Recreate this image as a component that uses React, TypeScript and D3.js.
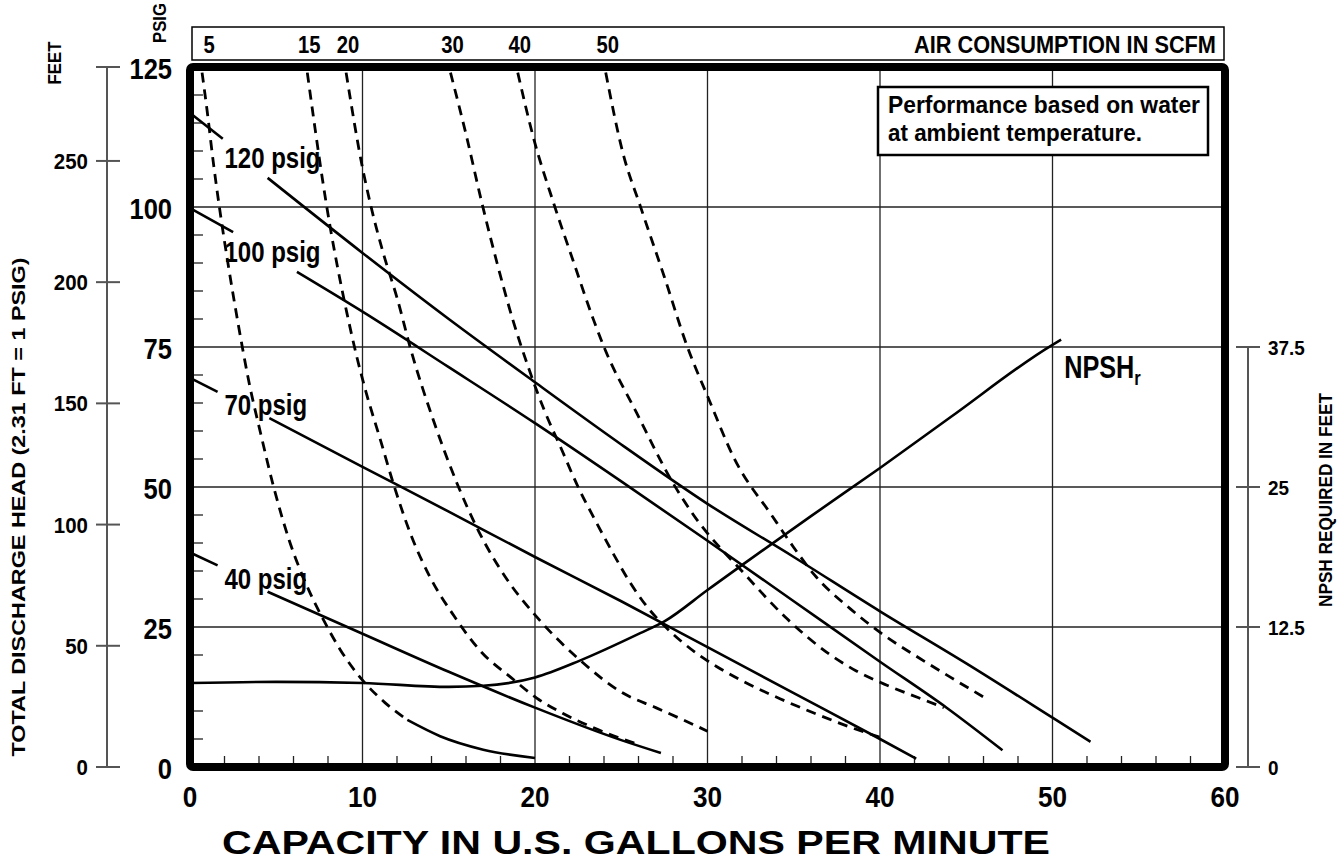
import React from 'react';
import * as d3 from 'd3';

// Achsen
const capacityTicks = [0, 10, 20, 30, 40, 50, 60];
const psigTicks = [0, 25, 50, 75, 100, 125];
const feetTicks = [0, 50, 100, 150, 200, 250];
const npshTicks = [0, 12.5, 25, 37.5];

// Förderhöhe-Kurven [GPM, PSIG], jeweils kurzer Anfang vor dem Label + Hauptteil
const head120Lead = [[0, 116.8], [1.9, 112.2]];
const head120 = [[4.5, 105.2], [10, 91.8], [15, 80], [20, 68.7], [25, 57.6], [30, 47], [35, 37.5], [40, 27.8], [45, 18.5], [50, 8.8], [52.2, 4.5]];
const head100Lead = [[0, 99.8], [2.5, 95.5]];
const head100 = [[6.2, 88.4], [10, 81.3], [15, 71.4], [20, 61.4], [25, 51], [30, 40.4], [35, 29.6], [40, 18.8], [43.9, 10.5], [47.1, 3.0]];
const head70Lead = [[0, 69.5], [1.6, 67]];
const head70 = [[4.6, 62.3], [10, 53.6], [15, 45.6], [20, 37.5], [25, 29.6], [30, 21.4], [35, 13.2], [40, 5.0], [42.1, 1.5]];
const head40Lead = [[0, 38.3], [1.6, 36]];
const head40 = [[4.5, 31.3], [10, 23.8], [15, 17], [20, 10.6], [25, 4.8], [27.3, 2.5]];
const headLabels = ['120 psig', '100 psig', '70 psig', '40 psig'];

// Luftverbrauch SCFM [GPM, PSIG]
const scfmLabels = ['5', '15', '20', '30', '40', '50'];
const scfm5 = [[0.7, 124], [1.0, 117], [1.35, 108], [1.75, 99], [2.25, 89], [2.8, 79], [3.4, 69], [4.1, 59.5], [4.85, 50], [5.75, 40.5], [6.9, 31.5], [7.7, 26.5], [8.7, 21], [10, 15.5], [11.3, 11.5], [12.6, 8.4]];
const scfm5Tail = [[12.6, 8.4], [14.5, 5.5], [17, 3.1], [20, 1.6]];
const scfm15 = [[6.8, 124], [7.25, 114], [7.7, 104.5], [8.15, 96], [8.6, 88.5], [9.1, 81], [9.65, 73.5], [10.2, 67], [11, 58.8], [11.8, 50.5], [12.8, 41.5], [13.9, 34], [15.3, 27], [16.9, 20.5], [18.6, 16], [20.1, 12.3], [21.6, 9.6], [23.4, 7], [26.1, 3.9]];
const scfm20 = [[9.05, 124], [10, 107], [10.5, 100], [11.2, 91.8], [12, 83.8], [12.85, 74], [14.1, 62], [15.5, 50.5], [16.75, 42], [18.4, 33.4], [20.1, 26.8], [22.6, 19.1], [25.1, 13.2], [27, 10.6], [28.6, 8.4], [30, 6.4]];
const scfm30 = [[15.1, 124], [16, 113], [16.9, 101], [17.8, 90], [18.7, 80], [19.6, 71.5], [20.5, 64], [21.5, 57], [22.5, 50], [23.5, 44], [24.5, 38.3], [25.5, 33], [26.5, 28.6], [27.5, 25.2], [28.5, 22.4], [29.5, 20], [30.5, 18], [32.2, 15.1], [34.2, 12.2], [36.2, 9.6], [38.2, 7.2], [40, 5.3]];
const scfm40 = [[19, 124], [19.9, 112.5], [21.1, 100.5], [22.2, 90.5], [23.4, 79.8], [24, 75], [25.9, 63.2], [28, 50.7], [29.1, 45.4], [32.2, 34.3], [34.6, 26.5], [37, 20.3], [38.6, 17.2], [40.4, 14.6], [42.2, 12.4], [43.7, 10.6]];
const scfm50 = [[24.1, 124], [25.1, 109.6], [26.1, 100.2], [27.5, 87.5], [28.8, 75.3], [30.1, 65.5], [31.5, 55.4], [33.8, 44.6], [35, 39.2], [36.2, 34.3], [38.3, 28.2], [40.2, 23.6], [42.2, 19.6], [44.1, 16], [46, 12.5]];

// NPSH erforderlich [GPM, Fuß]
const npsh = [[0, 7.5], [5, 7.6], [10, 7.5], [15, 7.15], [17, 7.25], [20, 8.0], [22.6, 9.5], [26.1, 11.95], [27.5, 13.0], [30, 15.8], [32.2, 18.25], [36, 22.4], [40, 26.7], [44.1, 31.25], [50, 37.7], [50.5, 38.15]];

const FONT = "'Liberation Sans', Arial, Helvetica, sans-serif";

// Text mit horizontaler Stauchung
const T = ({x, y, size, sx = 1, anchor = 'start', children}: any) => (
    <text transform={`translate(${x},${y}) scale(${sx},1)`} fontSize={size} textAnchor={anchor}>{children}</text>
);

const App: React.FC = () => {
    const x = d3.scaleLinear().domain([0, 60]).range([190, 1225]);
    const y = d3.scaleLinear().domain([0, 125]).range([767, 67]);
    const yFeet = d3.scaleLinear().domain([0, 125 * 2.31]).range([767, 67]);
    const yNpsh = d3.scaleLinear().domain([0, 37.5]).range([767, 347]);

    const line = d3.line<number[]>().x(d => x(d[0])).y(d => y(d[1])).curve(d3.curveMonotoneX);
    const npshLine = d3.line<number[]>().x(d => x(d[0])).y(d => yNpsh(d[1])).curve(d3.curveMonotoneX);

    const heads = [
        {lead: head120Lead, main: head120},
        {lead: head100Lead, main: head100},
        {lead: head70Lead, main: head70},
        {lead: head40Lead, main: head40},
    ];
    const scfm = [scfm5, scfm15, scfm20, scfm30, scfm40, scfm50];

    const minorY = d3.range(5, 125, 5).filter(v => v % 25 !== 0);
    const minorX = d3.range(2, 60, 2).filter(v => v % 10 !== 0);
    const npshEnd = npsh[npsh.length - 1];

    return (
        <svg width={1344} height={860} style={{position: 'absolute', left: 0, top: 0, background: '#fff'}}
             fontFamily={FONT} fontWeight="bold">
            {/* Gitter */}
            {capacityTicks.slice(1, -1).map(t => (
                <line key={'gx' + t} x1={x(t)} x2={x(t)} y1={y(0)} y2={y(125)} stroke="#222" strokeWidth={1.3}/>
            ))}
            {psigTicks.slice(1, -1).map(t => (
                <line key={'gy' + t} x1={x(0)} x2={x(60)} y1={y(t)} y2={y(t)} stroke="#222" strokeWidth={1.3}/>
            ))}
            {minorY.map(t => (
                <line key={'my' + t} x1={x(0)} x2={x(0) + 13} y1={y(t)} y2={y(t)} stroke="#222" strokeWidth={1.3}/>
            ))}
            {minorX.map(t => (
                <line key={'mx' + t} x1={x(t)} x2={x(t)} y1={y(0)} y2={y(0) - 11} stroke="#222" strokeWidth={1.3}/>
            ))}

            {/* Luftverbrauch */}
            {scfm.map((s, i) => (
                <path key={'s' + i} d={line(s)!} fill="none" stroke="#000" strokeWidth={2.8}
                      strokeDasharray="10,7"/>
            ))}
            <path d={line(scfm5Tail)!} fill="none" stroke="#000" strokeWidth={2.6}/>

            {/* Förderhöhe */}
            {heads.map((h, i) => {
                const le = h.lead[h.lead.length - 1];
                const ms = h.main[0];
                const mid = (le[1] + ms[1]) / 2;
                return (
                    <g key={'h' + i}>
                        <path d={line(h.lead)!} fill="none" stroke="#000" strokeWidth={2.6}/>
                        <path d={line(h.main)!} fill="none" stroke="#000" strokeWidth={2.6}/>
                        <T x={x(2)} y={y(mid) + 10} size={30} sx={0.8}>{headLabels[i]}</T>
                    </g>
                );
            })}

            {/* NPSH */}
            <path d={npshLine(npsh)!} fill="none" stroke="#000" strokeWidth={2.6}/>
            <T x={x(npshEnd[0]) + 3} y={yNpsh(npshEnd[1]) + 38} size={32} sx={0.79}>
                NPSH<tspan fontSize={21} dy={7}>r</tspan>
            </T>

            {/* Hinweis */}
            <rect x={878} y={87} width={330} height={68} fill="#fff" stroke="#000" strokeWidth={2.5}/>
            <text x={888} y={113} fontSize={23} textLength={312} lengthAdjust="spacingAndGlyphs">Performance based on water</text>
            <text x={888} y={141} fontSize={23} textLength={254} lengthAdjust="spacingAndGlyphs">at ambient temperature.</text>

            {/* Rahmen */}
            <rect x={x(0)} y={y(125)} width={x(60) - x(0)} height={y(0) - y(125)} fill="none" stroke="#000"
                  strokeWidth={8} rx={3}/>

            {/* Luftverbrauch-Leiste oben */}
            <rect x={192} y={27} width={1032} height={33} fill="#fff" stroke="#000" strokeWidth={1.5}/>
            {scfm.map((s, i) => (
                <T key={'sl' + i} x={x(s[0][0]) + (i === 0 ? 7 : 2)} y={53} size={23} sx={0.88} anchor="middle">
                    {scfmLabels[i]}
                </T>
            ))}
            <text x={1216} y={53} fontSize={23} textAnchor="end" textLength={302} lengthAdjust="spacingAndGlyphs">AIR CONSUMPTION IN SCFM</text>
            <text transform="translate(166,23) rotate(-90)" fontSize={18} textAnchor="middle"
                  textLength={40} lengthAdjust="spacingAndGlyphs">PSIG</text>

            {/* Achsenbeschriftung PSIG */}
            {psigTicks.map(t => (
                <T key={'py' + t} x={172} y={y(t) + 12} size={29} sx={0.88} anchor="end">{t}</T>
            ))}
            {capacityTicks.map(t => (
                <T key={'cx' + t} x={x(t)} y={807} size={29} sx={0.9} anchor="middle">{t}</T>
            ))}
            <text x={636} y={854} fontSize={33} textAnchor="middle" textLength={828}
                  lengthAdjust="spacingAndGlyphs">CAPACITY IN U.S. GALLONS PER MINUTE</text>

            {/* Fuß-Achse */}
            <line x1={107} x2={107} y1={yFeet(0)} y2={y(125)} stroke="#555" strokeWidth={2}/>
            <line x1={96} x2={120} y1={y(125)} y2={y(125)} stroke="#555" strokeWidth={2}/>
            {feetTicks.map(t => (
                <g key={'f' + t}>
                    <line x1={96} x2={120} y1={yFeet(t)} y2={yFeet(t)} stroke="#555" strokeWidth={2}/>
                    <T x={88} y={yFeet(t) + 8} size={22} sx={0.93} anchor="end">{t}</T>
                </g>
            ))}
            <text transform="translate(61,63) rotate(-90)" fontSize={18} textAnchor="middle"
                  textLength={43} lengthAdjust="spacingAndGlyphs">FEET</text>
            <text transform="translate(25,507) rotate(-90)" fontSize={19} textAnchor="middle"
                  textLength={499} lengthAdjust="spacingAndGlyphs">TOTAL DISCHARGE HEAD (2.31 FT = 1 PSIG)</text>

            {/* NPSH-Achse */}
            <line x1={1248} x2={1248} y1={yNpsh(0)} y2={yNpsh(37.5)} stroke="#555" strokeWidth={2}/>
            {npshTicks.map(t => (
                <g key={'n' + t}>
                    <line x1={1236} x2={1260} y1={yNpsh(t)} y2={yNpsh(t)} stroke="#555" strokeWidth={2}/>
                    <T x={1268} y={yNpsh(t) + 8} size={21} sx={0.9}>{t}</T>
                </g>
            ))}
            <text transform="translate(1332,500) rotate(-90)" fontSize={18} textAnchor="middle"
                  textLength={214} lengthAdjust="spacingAndGlyphs">NPSH REQUIRED IN FEET</text>
        </svg>
    );
};

export default App;
